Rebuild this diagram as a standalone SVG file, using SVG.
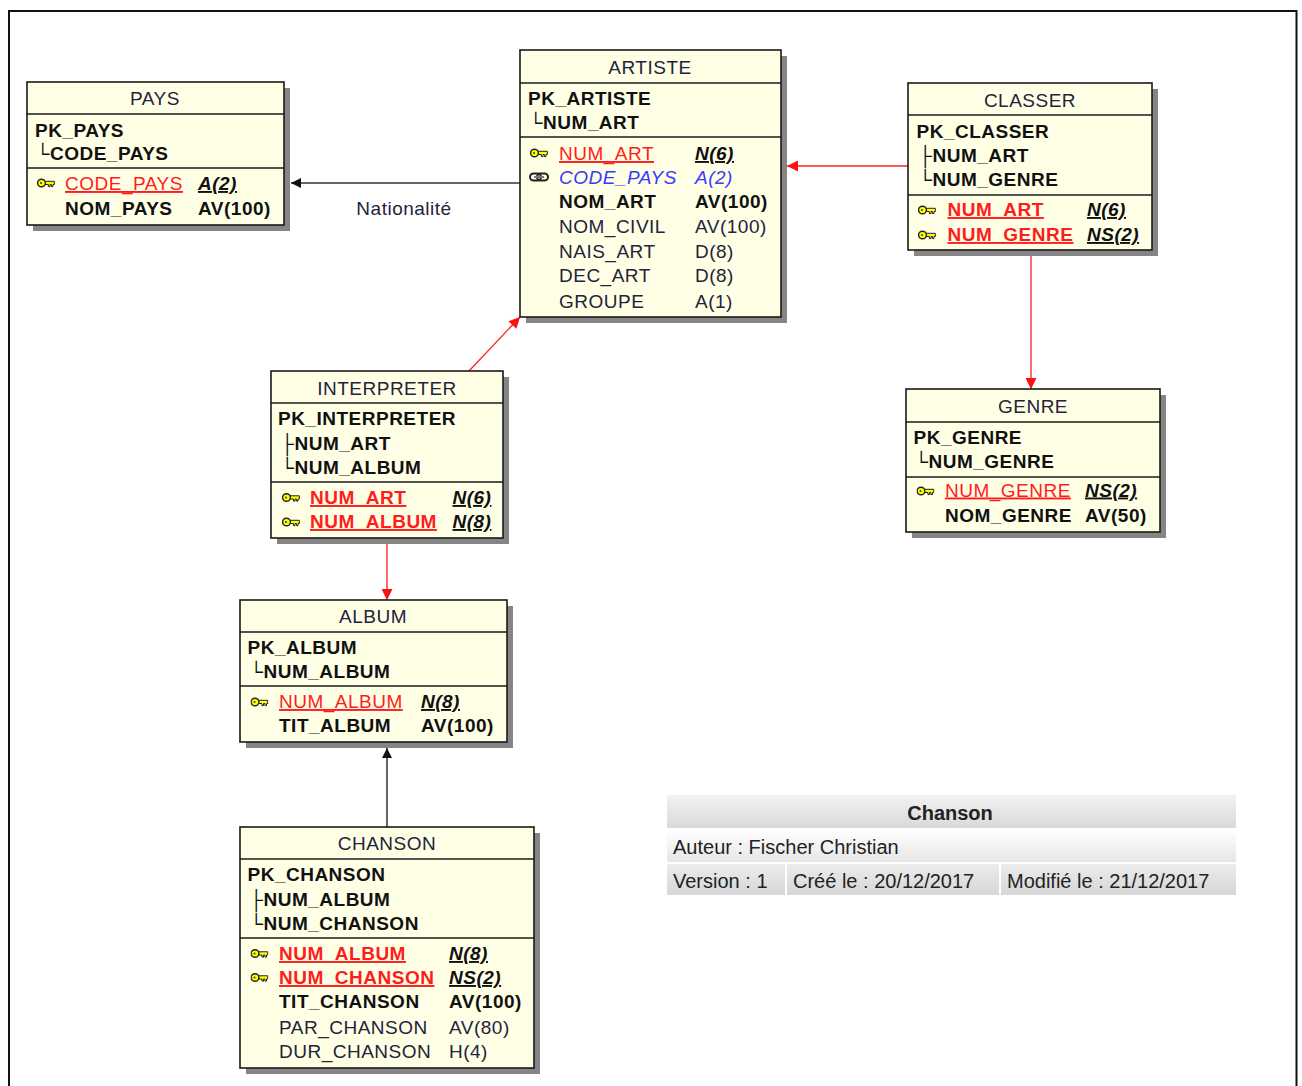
<svg xmlns="http://www.w3.org/2000/svg" width="1302" height="1086" viewBox="0 0 1302 1086">
<style>
text{font-family:"Liberation Sans",Arial,sans-serif;font-size:19px;letter-spacing:0.5px;fill:#23233a}
.ti{text-anchor:middle}
.b{font-weight:bold;fill:#111}
.pk{fill:#ff1c1c;text-decoration:underline}
.pkb{fill:#ff1c1c;text-decoration:underline;font-weight:bold}
.pt{font-weight:bold;font-style:italic;text-decoration:underline;fill:#111}
.fk{fill:#3a3aff;font-style:italic}
.tr{font-weight:normal;fill:#111}
.box{fill:#ffffe6;stroke:#1a1a1a;stroke-width:1.6}
.sh{fill:#858585}
.sep{stroke:#1a1a1a;stroke-width:1.4}
.cb{stroke:#333;stroke-width:1.5;fill:none}
.cr{stroke:#ff2020;stroke-width:1.3;fill:none}
.info{font-size:20px;letter-spacing:0;fill:#222}
</style>
<defs>
<marker id="ab" viewBox="0 0 10 10" refX="10" refY="5" markerWidth="11" markerHeight="10" markerUnits="userSpaceOnUse" orient="auto"><path d="M0,0 L10,5 L0,10 Z" fill="#111"/></marker>
<marker id="ar" viewBox="0 0 10 10" refX="10" refY="5" markerWidth="12" markerHeight="11" markerUnits="userSpaceOnUse" orient="auto"><path d="M0,0 L10,5 L0,10 Z" fill="#ff1010"/></marker>
<symbol id="key" viewBox="0 0 18 10">
<path d="M7.5,3.3 H17.3 V6.5 H16 V8.6 H14.4 V6.5 H13 V8.6 H11.4 V6.5 H7.5 Z" fill="#ffff00" stroke="#222" stroke-width="1"/>
<ellipse cx="4.5" cy="5" rx="3.9" ry="3.8" fill="#ffff00" stroke="#222" stroke-width="1.4"/>
<ellipse cx="4" cy="5" rx="1.1" ry="1.1" fill="#444"/>
</symbol>
<symbol id="link" viewBox="0 0 20 10">
<rect x="1" y="1.5" width="11" height="7" rx="3.5" fill="none" stroke="#222" stroke-width="2"/>
<rect x="8" y="1.5" width="11" height="7" rx="3.5" fill="none" stroke="#222" stroke-width="2"/>
<rect x="5" y="4" width="10" height="2" fill="#777"/>
</symbol>
<linearGradient id="g1" x1="0" y1="0" x2="0" y2="1"><stop offset="0" stop-color="#f2f2f2"/><stop offset="1" stop-color="#d9d9d9"/></linearGradient>
<linearGradient id="g2" x1="0" y1="0" x2="0" y2="1"><stop offset="0" stop-color="#ffffff"/><stop offset="1" stop-color="#e6e6e6"/></linearGradient>
<linearGradient id="g3" x1="0" y1="0" x2="0" y2="1"><stop offset="0" stop-color="#ececec"/><stop offset="1" stop-color="#d6d6d6"/></linearGradient>
</defs>
<rect width="1302" height="1086" fill="#fff"/>
<path d="M9,1090 V11 H1296.5 V1090" fill="none" stroke="#111" stroke-width="2"/>

<g id="connectors">
<line class="cb" x1="520" y1="183" x2="291" y2="183" marker-end="url(#ab)"/>
<text x="404" y="215" class="ti">Nationalité</text>
<line class="cr" x1="908" y1="166" x2="787" y2="166" marker-end="url(#ar)"/>
<line class="cr" x1="1031" y1="256" x2="1031" y2="389" marker-end="url(#ar)"/>
<line class="cr" x1="469" y1="371" x2="520" y2="317" marker-end="url(#ar)"/>
<line class="cr" x1="387" y1="544" x2="387" y2="600" marker-end="url(#ar)"/>
<line class="cb" x1="387" y1="827" x2="387" y2="748" marker-end="url(#ab)"/>
</g>

<g id="PAYS">
<rect class="sh" x="33" y="88" width="257" height="143"/>
<rect class="box" x="27" y="82" width="257" height="143"/>
<line class="sep" x1="27" y1="114" x2="284" y2="114"/>
<line class="sep" x1="27" y1="168" x2="284" y2="168"/>
<text class="ti" x="155" y="105">PAYS</text>
<text class="b" x="35" y="136.5">PK_PAYS</text>
<text class="b" x="36" y="160"><tspan class="tr">└</tspan>CODE_PAYS</text>
<use href="#key" x="37" y="178" width="18" height="10"/>
<text class="pk" x="65" y="190">CODE_PAYS</text>
<text class="pt" x="198" y="190">A(2)</text>
<text class="b" x="65" y="215">NOM_PAYS</text>
<text class="b" x="198" y="215">AV(100)</text>
</g>

<g id="ARTISTE">
<rect class="sh" x="526" y="56" width="261" height="267"/>
<rect class="box" x="520" y="50" width="261" height="267"/>
<line class="sep" x1="520" y1="83" x2="781" y2="83"/>
<line class="sep" x1="520" y1="137" x2="781" y2="137"/>
<text class="ti" x="650" y="74">ARTISTE</text>
<text class="b" x="528" y="105">PK_ARTISTE</text>
<text class="b" x="529" y="129"><tspan class="tr">└</tspan>NUM_ART</text>
<use href="#key" x="530" y="148" width="18" height="10"/>
<text class="pk" x="559" y="160">NUM_ART</text>
<text class="pt" x="695" y="160">N(6)</text>
<use href="#link" x="529" y="172" width="20" height="10"/>
<text class="fk" x="559" y="184">CODE_PAYS</text>
<text class="fk" x="695" y="184">A(2)</text>
<text class="b" x="559" y="208">NOM_ART</text>
<text class="b" x="695" y="208">AV(100)</text>
<text x="559" y="233">NOM_CIVIL</text>
<text x="695" y="233">AV(100)</text>
<text x="559" y="258">NAIS_ART</text>
<text x="695" y="258">D(8)</text>
<text x="559" y="282">DEC_ART</text>
<text x="695" y="282">D(8)</text>
<text x="559" y="307.5">GROUPE</text>
<text x="695" y="307.5">A(1)</text>
</g>

<g id="CLASSER">
<rect class="sh" x="914" y="89" width="244" height="167"/>
<rect class="box" x="908" y="83" width="244" height="167"/>
<line class="sep" x1="908" y1="115" x2="1152" y2="115"/>
<line class="sep" x1="908" y1="195" x2="1152" y2="195"/>
<text class="ti" x="1030" y="107">CLASSER</text>
<text class="b" x="916.5" y="138">PK_CLASSER</text>
<text class="b" x="918.5" y="162"><tspan class="tr">├</tspan>NUM_ART</text>
<text class="b" x="918.5" y="186"><tspan class="tr">└</tspan>NUM_GENRE</text>
<use href="#key" x="918" y="205" width="18" height="10"/>
<text class="pkb" x="947.5" y="216">NUM_ART</text>
<text class="pt" x="1087" y="216">N(6)</text>
<use href="#key" x="918" y="230" width="18" height="10"/>
<text class="pkb" x="947.5" y="241">NUM_GENRE</text>
<text class="pt" x="1087" y="241">NS(2)</text>
</g>

<g id="GENRE">
<rect class="sh" x="912" y="395" width="254" height="143"/>
<rect class="box" x="906" y="389" width="254" height="143"/>
<line class="sep" x1="906" y1="422" x2="1160" y2="422"/>
<line class="sep" x1="906" y1="477" x2="1160" y2="477"/>
<text class="ti" x="1033" y="413">GENRE</text>
<text class="b" x="913.5" y="444">PK_GENRE</text>
<text class="b" x="914.5" y="467.5"><tspan class="tr">└</tspan>NUM_GENRE</text>
<use href="#key" x="916.5" y="486" width="18" height="10"/>
<text class="pk" x="945" y="496.5">NUM_GENRE</text>
<text class="pt" x="1085" y="496.5">NS(2)</text>
<text class="b" x="945" y="521.5">NOM_GENRE</text>
<text class="b" x="1085" y="521.5">AV(50)</text>
</g>

<g id="INTERPRETER">
<rect class="sh" x="277" y="377" width="232" height="167"/>
<rect class="box" x="271" y="371" width="232" height="167"/>
<line class="sep" x1="271" y1="403" x2="503" y2="403"/>
<line class="sep" x1="271" y1="482" x2="503" y2="482"/>
<text class="ti" x="387" y="395">INTERPRETER</text>
<text class="b" x="278" y="425">PK_INTERPRETER</text>
<text class="b" x="280.5" y="450"><tspan class="tr">├</tspan>NUM_ART</text>
<text class="b" x="280.5" y="474"><tspan class="tr">└</tspan>NUM_ALBUM</text>
<use href="#key" x="282" y="492.5" width="18" height="10"/>
<text class="pkb" x="310" y="504">NUM_ART</text>
<text class="pt" x="452.5" y="504">N(6)</text>
<use href="#key" x="282" y="517" width="18" height="10"/>
<text class="pkb" x="310" y="528">NUM_ALBUM</text>
<text class="pt" x="452.5" y="528">N(8)</text>
</g>

<g id="ALBUM">
<rect class="sh" x="246" y="606" width="267" height="142"/>
<rect class="box" x="240" y="600" width="267" height="142"/>
<line class="sep" x1="240" y1="632" x2="507" y2="632"/>
<line class="sep" x1="240" y1="686" x2="507" y2="686"/>
<text class="ti" x="373" y="623">ALBUM</text>
<text class="b" x="247.5" y="654">PK_ALBUM</text>
<text class="b" x="249.5" y="678"><tspan class="tr">└</tspan>NUM_ALBUM</text>
<use href="#key" x="250.5" y="697" width="18" height="10"/>
<text class="pk" x="279" y="708">NUM_ALBUM</text>
<text class="pt" x="421" y="708">N(8)</text>
<text class="b" x="279" y="732">TIT_ALBUM</text>
<text class="b" x="421" y="732">AV(100)</text>
</g>

<g id="CHANSON">
<rect class="sh" x="246" y="833" width="294" height="241"/>
<rect class="box" x="240" y="827" width="294" height="241"/>
<line class="sep" x1="240" y1="859" x2="534" y2="859"/>
<line class="sep" x1="240" y1="938" x2="534" y2="938"/>
<text class="ti" x="387" y="850">CHANSON</text>
<text class="b" x="247.5" y="880.5">PK_CHANSON</text>
<text class="b" x="249.5" y="905.5"><tspan class="tr">├</tspan>NUM_ALBUM</text>
<text class="b" x="249.5" y="930"><tspan class="tr">└</tspan>NUM_CHANSON</text>
<use href="#key" x="250.5" y="948.5" width="18" height="10"/>
<text class="pkb" x="279" y="960">NUM_ALBUM</text>
<text class="pt" x="449" y="960">N(8)</text>
<use href="#key" x="250.5" y="972.5" width="18" height="10"/>
<text class="pkb" x="279" y="984">NUM_CHANSON</text>
<text class="pt" x="449" y="984">NS(2)</text>
<text class="b" x="279" y="1008">TIT_CHANSON</text>
<text class="b" x="449" y="1008">AV(100)</text>
<text x="279" y="1034">PAR_CHANSON</text>
<text x="449" y="1034">AV(80)</text>
<text x="279" y="1058">DUR_CHANSON</text>
<text x="449" y="1058">H(4)</text>
</g>

<g id="info">
<rect x="667" y="795" width="569" height="33" fill="url(#g1)"/>
<rect x="667" y="830" width="569" height="32" fill="url(#g2)"/>
<rect x="667" y="864" width="118" height="31" fill="url(#g3)"/>
<rect x="787" y="864" width="212" height="31" fill="url(#g3)"/>
<rect x="1001" y="864" width="235" height="31" fill="url(#g3)"/>
<text class="info ti" x="950" y="820" font-weight="bold">Chanson</text>
<text class="info" x="673" y="854">Auteur : Fischer Christian</text>
<text class="info" x="673" y="888">Version : 1</text>
<text class="info" x="793" y="888">Créé le : 20/12/2017</text>
<text class="info" x="1007" y="888">Modifié le : 21/12/2017</text>
</g>
</svg>
